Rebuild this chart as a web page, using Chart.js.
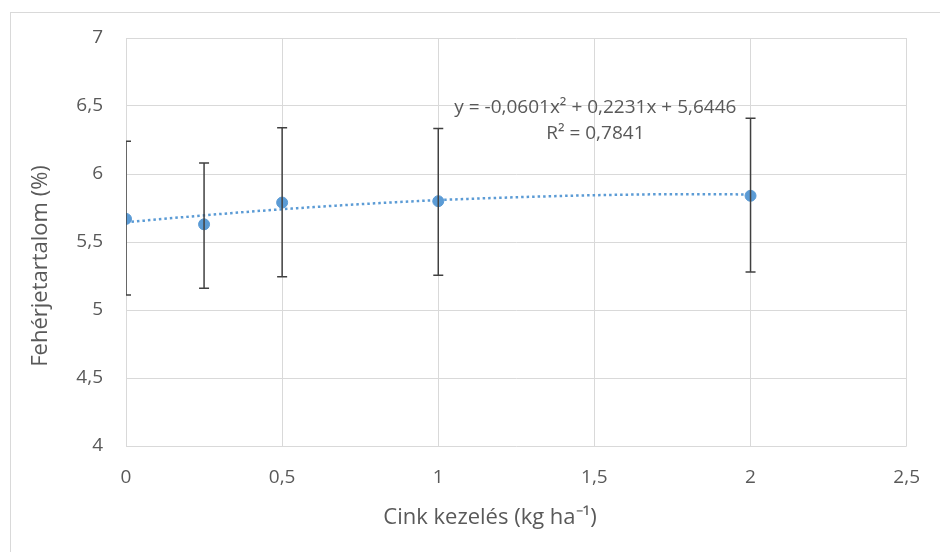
<!DOCTYPE html>
<html lang="hu">
<head>
<meta charset="UTF-8">
<script src="https://cdn.jsdelivr.net/npm/chart.js"></script>
<style>
  html, body { margin: 0; padding: 0; background: #fff; overflow: hidden; }
  /* külső diagramkeret */
  .keret { position: absolute; left: 10px; top: 12px; width: 980px; height: 600px; border: 1px solid #d9d9d9; }
  .wrap { position: absolute; left: 0; top: 0; width: 940px; height: 552px; }
</style>
</head>
<body>
<div class="keret"></div>
<div class="wrap"><canvas id="chart" width="940" height="552"></canvas></div>
<script>
  // Adatok
  const dozisok   = [0, 0.25, 0.5, 1, 2];
  const feherje   = [5.67, 5.63, 5.79, 5.80, 5.84];
  const hibaAlso  = [5.11, 5.16, 5.245, 5.255, 5.28];
  const hibaFelso = [6.24, 6.08, 6.34, 6.335, 6.41];

  // Polinomiális trendvonal pontjai
  const trendX = [0, 0.25, 0.5, 0.75, 1, 1.25, 1.5, 1.75, 2];
  const trendY = [5.645, 5.696, 5.741, 5.778, 5.808, 5.829, 5.844, 5.851, 5.850];

  const xTicks = [0, 0.5, 1, 1.5, 2, 2.5];
  const yTicks = [4, 4.5, 5, 5.5, 6, 6.5, 7];

  const egyenlet = ['y = -0,0601x² + 0,2231x + 5,6446', 'R² = 0,7841'];
  const xCim = 'Cink kezelés (kg ha⁻¹)';
  const yCim = 'Fehérjetartalom (%)';

  const SZOVEG = '#595959';
  const KEK = '#5b9bd5';
  const BETU = "'Open Sans', sans-serif";

  const vesszo = v => String(v).replace('.', ',');

  // hibasávok, egyenlet, tengelycímek
  const rajzolo = {
    id: 'rajzolo',
    afterDatasetsDraw(chart) {
      const ctx = chart.ctx, xs = chart.scales.x, ys = chart.scales.y, a = chart.chartArea;
      ctx.save();
      ctx.beginPath();
      ctx.rect(a.left, a.top - 10, a.right - a.left, a.bottom - a.top + 20);
      ctx.clip();
      ctx.strokeStyle = '#404040';
      ctx.lineWidth = 1.5;
      dozisok.forEach((d, i) => {
        const x = xs.getPixelForValue(d);
        const y1 = ys.getPixelForValue(hibaAlso[i]);
        const y2 = ys.getPixelForValue(hibaFelso[i]);
        ctx.beginPath();
        ctx.moveTo(x, y1); ctx.lineTo(x, y2);
        ctx.moveTo(x - 5, y1); ctx.lineTo(x + 5, y1);
        ctx.moveTo(x - 5, y2); ctx.lineTo(x + 5, y2);
        ctx.stroke();
      });
      ctx.restore();

      ctx.save();
      ctx.fillStyle = SZOVEG;
      ctx.textAlign = 'center';
      ctx.textBaseline = 'middle';
      ctx.font = '19px ' + BETU;
      const ex = xs.getPixelForValue(1.503);
      ctx.fillText(egyenlet[0], ex, ys.getPixelForValue(6.49));
      ctx.fillText(egyenlet[1], ex, ys.getPixelForValue(6.30));

      ctx.font = '22px ' + BETU;
      ctx.fillText(xCim, 490, 518);
      ctx.translate(41, 266);
      ctx.rotate(-Math.PI / 2);
      ctx.fillText(yCim, 0, 0);
      ctx.restore();
    }
  };

  new Chart(document.getElementById('chart'), {
    type: 'scatter',
    data: {
      datasets: [
        {
          label: 'Fehérjetartalom',
          data: dozisok.map((d, i) => ({ x: d, y: feherje[i] })),
          backgroundColor: KEK,
          borderColor: KEK,
          pointRadius: 5.5,
          order: 0
        },
        {
          type: 'line',
          label: 'Trend',
          data: trendX.map((d, i) => ({ x: d, y: trendY[i] })),
          borderColor: KEK,
          borderWidth: 2.5,
          borderDash: [2.5, 3],
          pointRadius: 0,
          fill: false,
          cubicInterpolationMode: 'monotone',
          order: 1
        }
      ]
    },
    options: {
      responsive: false,
      animation: false,
      layout: { padding: { left: 0, top: 38, right: 33, bottom: 0 } },
      plugins: { legend: { display: false }, tooltip: { enabled: false } },
      scales: {
        x: {
          type: 'linear', min: 0, max: 2.5,
          afterBuildTicks: s => { s.ticks = xTicks.map(v => ({ value: v })); },
          afterFit: s => { s.height = 106; },
          grid: { color: '#d9d9d9', lineWidth: 1, drawTicks: false },
          border: { display: false },
          ticks: { padding: 20, color: SZOVEG, font: { family: BETU, size: 19 }, callback: v => vesszo(v) }
        },
        y: {
          min: 4, max: 7,
          afterBuildTicks: s => { s.ticks = yTicks.map(v => ({ value: v })); },
          afterFit: s => { s.width = 126; },
          grid: { color: '#d9d9d9', lineWidth: 1, drawTicks: false },
          border: { display: false },
          ticks: { padding: 23, color: SZOVEG, font: { family: BETU, size: 19 }, callback: v => vesszo(v) }
        }
      }
    },
    plugins: [rajzolo]
  });
</script>
</body>
</html>
